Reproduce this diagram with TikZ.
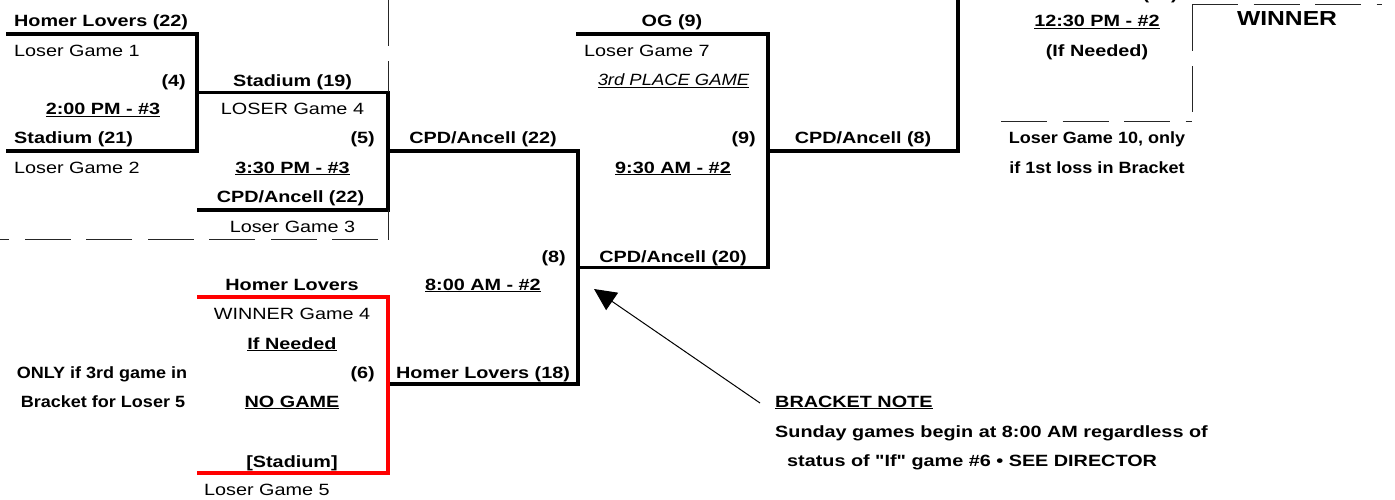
\documentclass[tikz,border=0pt]{standalone}
\usepackage{fontspec}
\setmainfont[FakeStretch=1.215]{Liberation Sans}
\newfontfamily\narrowsans[FakeStretch=1.105]{Liberation Sans}
\newfontfamily\midsans[FakeStretch=1.13]{Liberation Sans}
\newfontfamily\plainquotesans[FakeStretch=1.215, Ligatures=TeXOff]{Liberation Sans}
\usetikzlibrary{arrows.meta}
\newcommand\undl[1]{\setbox0\hbox{#1}\rlap{\rule[-2.4pt]{\wd0}{1.3pt}}\box0}
\begin{document}
\begin{tikzpicture}[x=1pt,y=-1pt,
  rt/.style={inner sep=0pt, font=\fontsize{16.3}{19}\selectfont},
  bt/.style={inner sep=0pt, font=\fontsize{16.3}{19}\selectfont\bfseries},
  nbt/.style={inner sep=0pt, font=\fontsize{16.3}{19}\selectfont\narrowsans\bfseries},
  qbt/.style={inner sep=0pt, font=\fontsize{16.3}{19}\selectfont\plainquotesans\bfseries},
  bigt/.style={inner sep=0pt, font=\fontsize{20.3}{24}\selectfont\bfseries},
  bline/.style={line width=3.2pt, line join=miter},
  rline/.style={line width=3.2pt, line join=miter, red},
  thinline/.style={line width=1pt, black!85},
  longdash/.style={thinline, dash pattern=on 46pt off 15.5pt},
  pointer/.style={line width=1pt, -{Triangle[length=22pt,width=21pt]}}]
\useasboundingbox (0,0) rectangle (1395,500);

% ---------- texts ----------
\node[bt, anchor=base west] (t1) at (14,26.5) {Homer Lovers (22)};
\node[rt, anchor=base west] (t2) at (14,56.5) {Loser Game 1};
\node[bt, anchor=base east] (g4) at (186,87) {(4)};
\node[bt, anchor=base] (t4) at (292.5,87) {Stadium (19)};
\node[bt, anchor=base] (tm4) at (103,115) {\undl{2:00 PM - \#3}};
\node[rt, anchor=base] (t6) at (292.5,115) {LOSER Game 4};
\node[bt, anchor=base west] (t7) at (14,143) {Stadium (21)};
\node[bt, anchor=base east] (g5) at (375,143) {(5)};
\node[rt, anchor=base west] (t9) at (14,173) {Loser Game 2};
\node[bt, anchor=base] (tm5) at (292.5,173) {\undl{3:30 PM - \#3}};
\node[bt, anchor=base] (t11) at (290.5,202) {CPD/Ancell (22)};
\node[rt, anchor=base] (t12) at (292.5,232) {Loser Game 3};

\node[bt, anchor=base] (t13) at (672,27) {OG (9)};
\node[rt, anchor=base west] (t14) at (584,57) {Loser Game 7};
\node[rt, anchor=base] (t15) at (673.5,86) {\midsans\itshape\undl{3rd PLACE GAME}};
\node[bt, anchor=base] (t16) at (483,143) {CPD/Ancell (22)};
\node[bt, anchor=base east] (g9) at (756,143) {(9)};
\node[bt, anchor=base] (tm9) at (673,173) {\undl{9:30 AM - \#2}};
\node[bt, anchor=base east] (g8) at (566,262) {(8)};
\node[bt, anchor=base] (t20) at (673,262) {CPD/Ancell (20)};
\node[bt, anchor=base] (t21) at (863,143) {CPD/Ancell (8)};

\node[bt, anchor=base east] (g10) at (1178,-0.5) {(10)};
\node[bt, anchor=base] (tm10) at (1097,27) {\undl{12:30 PM - \#2}};
\node[bt, anchor=base] (t24) at (1097,57) {(If Needed)};
\node[bigt, anchor=base] (win) at (1287,26) {WINNER};
\node[nbt, anchor=base] (t26) at (1097,143) {Loser Game 10, only};
\node[nbt, anchor=base] (t27) at (1097,173) {if 1st loss in Bracket};

\node[bt, anchor=base] (t28) at (292,290) {Homer Lovers};
\node[bt, anchor=base] (tm8) at (483,290) {\undl{8:00 AM - \#2}};
\node[rt, anchor=base] (t30) at (292,319) {WINNER Game 4};
\node[bt, anchor=base] (t31) at (292,349) {\undl{If Needed}};
\node[bt, anchor=base east] (g6) at (375,378) {(6)};
\node[bt, anchor=base] (t33) at (483,378) {Homer Lovers (18)};
\node[nbt, anchor=base] (t34) at (102,378) {ONLY if 3rd game in};
\node[nbt, anchor=base] (t35) at (103,407) {Bracket for Loser 5};
\node[bt, anchor=base] (t36) at (292,407) {\undl{NO GAME}};
\node[bt, anchor=base] (t37) at (292,467) {[Stadium]};
\node[rt, anchor=base west] (t38) at (204,495) {Loser Game 5};

\node[bt, anchor=base west] (note) at (775,407) {\undl{BRACKET NOTE}};
\node[bt, anchor=base west] (note1) at (775,437) {Sunday games begin at 8:00 AM regardless of};
\node[qbt, anchor=base west] (note2) at (787,466) {status of "If" game \#6 • SEE DIRECTOR};

% ---------- coordinates ----------
\coordinate (a1) at (6,34);    \coordinate (a2) at (197,34);
\coordinate (a3) at (197,151); \coordinate (a4) at (6,151);
\coordinate (w4) at (197,92.5); \coordinate (w4e) at (388,92.5);
\coordinate (b1) at (197,210); \coordinate (b2) at (388,210);
\coordinate (w5) at (388,151); \coordinate (w5e) at (578,151);
\coordinate (c2) at (578,384); \coordinate (c3) at (388,384);
\coordinate (w8) at (578,267.5); \coordinate (w8e) at (768,267.5);
\coordinate (d1) at (576,34); \coordinate (d2) at (768,34);
\coordinate (w9) at (768,151); \coordinate (w9e) at (958,151);
\coordinate (e1) at (958,-20);
\coordinate (r1) at (197,297); \coordinate (r2) at (388,297);
\coordinate (r3) at (388,473); \coordinate (r4) at (197,473);

% ---------- bracket lines ----------
\draw[bline] (a1) -- (a2) -- (a3) -- (a4);
\draw[bline] (w4) -- (w4e) -- (b2) -- (b1);
\draw[bline] (w5) -- (w5e) -- (c2) -- (c3);
\draw[bline] (w8) -- (w8e) -- (d2) -- (d1);
\draw[bline] (w9) -- (w9e) -- (e1);
\draw[rline] (r1) -- (r2) -- (r3) -- (r4);

% ---------- dashed guide lines ----------
\coordinate (h1) at (378,239.5); \coordinate (h0) at (0,239.5);
\draw[longdash] (h1) -- (h0);
\coordinate (v0) at (388,0); \coordinate (v1) at (388,92.5);
\draw[longdash] (v0) -- (v1);
\coordinate (v2) at (388,210); \coordinate (v3) at (388,239.5);
\draw[thinline] (v2) -- (v3);
\coordinate (f1) at (1001,122); \coordinate (f2) at (1192,122);
\draw[longdash] (f1) -- (f2);
\coordinate (f3) at (1192,5); \coordinate (f4) at (1192,122);
\draw[longdash] (f3) -- (f4);
\coordinate (f5) at (1382,5);
\draw[longdash] (f3) -- (f5);

% ---------- note arrow ----------
\coordinate (tail) at (760,403); \coordinate (tip) at (594,289);
\draw[pointer] (tail) -- (tip);
\end{tikzpicture}
\end{document}
